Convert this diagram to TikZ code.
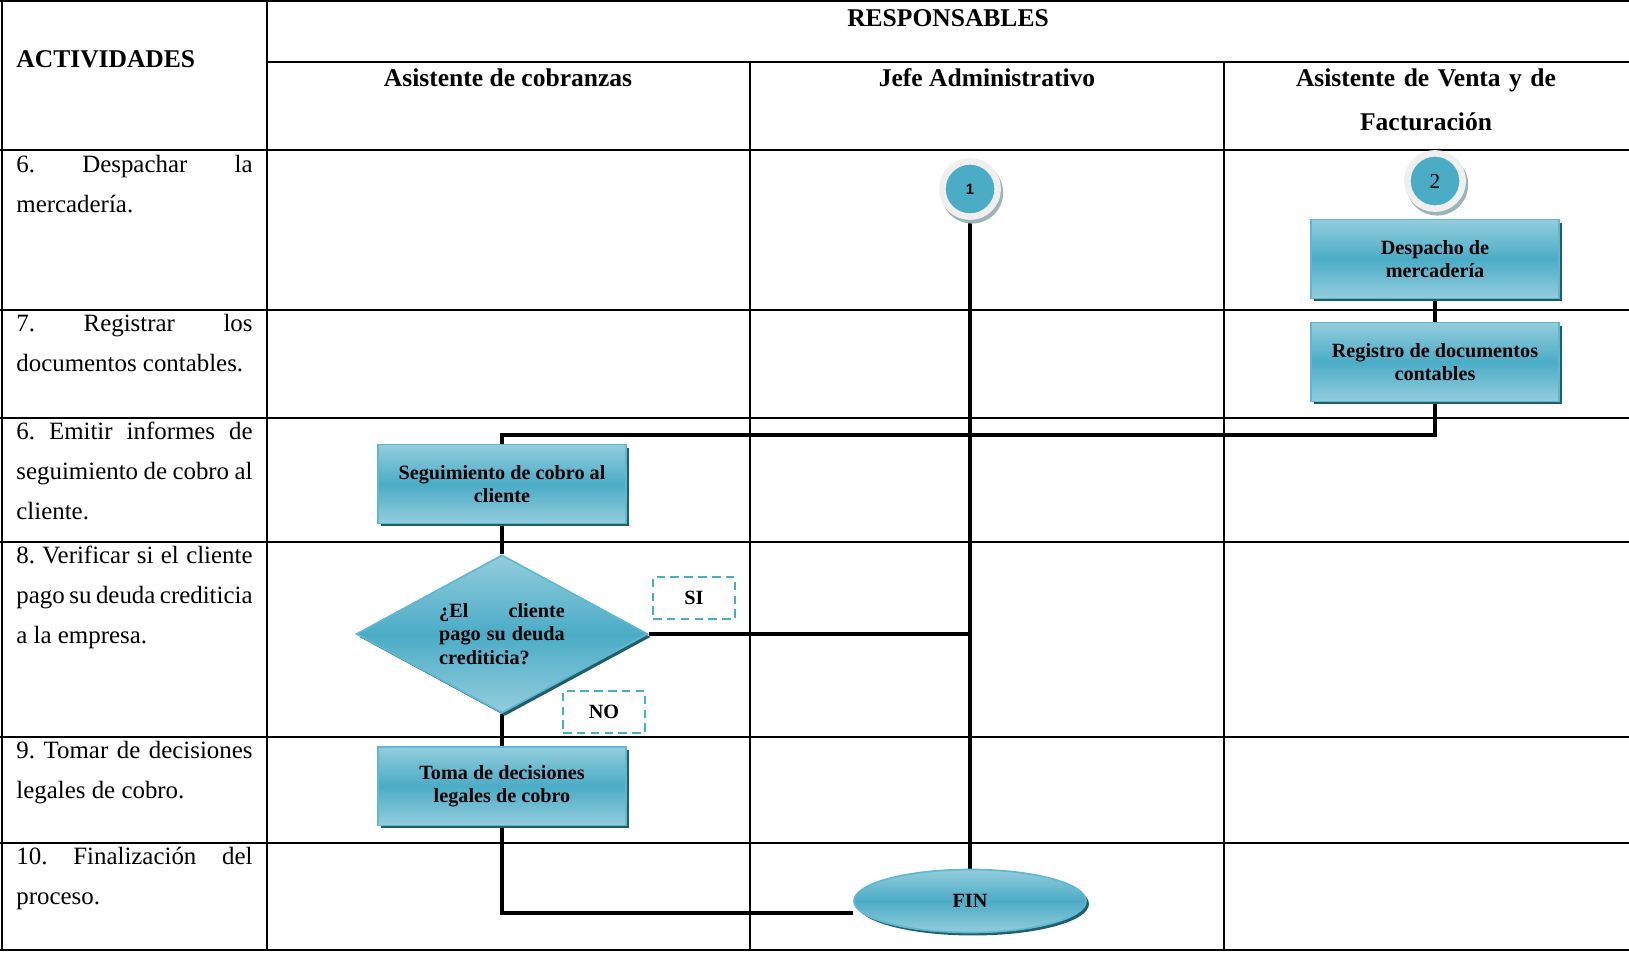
\documentclass[tikz,border=0pt]{standalone}
\usepackage{fontspec}
\setmainfont{Liberation Serif}
\setsansfont{Liberation Sans}
\usetikzlibrary{shapes.geometric,shadows,calc}

\definecolor{tealmid}{HTML}{4BACC6}
\definecolor{teallight}{HTML}{93CDDD}
\definecolor{tealedge}{HTML}{5FB8CF}
\definecolor{tealshadow}{HTML}{215E6C}
\definecolor{ringgrey}{HTML}{EFEFEF}
\definecolor{ringshadow}{HTML}{9DB3BA}

\newcommand\actfont{\fontsize{11.7}{18.8}\selectfont\frenchspacing
  \tolerance=10000\relax\hyphenpenalty=10000\relax}

\pgfdeclarelayer{bg}
\pgfsetlayers{bg,main}

\tikzset{
  tabla/.style={line width=1pt},
  flujo/.style={line width=1.5pt},
  actividad/.style={anchor=base west, text width=111pt, align=justify, inner sep=0pt,
    font=\actfont},
  encabezado/.style={anchor=base, inner sep=0pt, font=\fontsize{12}{20.7}\selectfont\bfseries},
  sombra/.style={drop shadow={shadow xshift=1.4pt, shadow yshift=-1.4pt, fill=tealshadow, opacity=1}},
  relleno/.style={draw=tealedge, line width=0.8pt, top color=teallight, bottom color=teallight,
    middle color=tealmid, sombra, inner sep=0pt, font=\fontsize{9.5}{11}\selectfont\bfseries},
  proceso/.style={rectangle, relleno, minimum width=116.5pt, minimum height=37pt, align=center},
  decision/.style={diamond, aspect=1.85, relleno, minimum width=137pt, minimum height=74.3pt,
    text width=59pt, align=justify},
  terminal/.style={ellipse, relleno, minimum width=109pt, minimum height=29.6pt},
  conector/.style={circle, draw=ringgrey, line width=3.1pt, fill=tealmid, minimum size=26pt,
    inner sep=0pt, drop shadow={shadow xshift=0.9pt, shadow yshift=-1.5pt, shadow scale=1.12,
    fill=ringshadow, opacity=1}},
  etiqueta/.style={draw=tealmid, dash pattern=on 4pt off 2.5pt, line width=1.1pt,
    minimum width=38.5pt, minimum height=19.7pt, font=\fontsize{9.5}{11}\selectfont\bfseries}
}

\begin{document}
\begin{tikzpicture}[x=0.47pt,y=-0.47pt]
  \useasboundingbox (0,0) rectangle (1629,952);

  \node[encabezado, anchor=base west] (act) at (16,67) {ACTIVIDADES};
  \node[encabezado] (resp) at (948,26) {RESPONSABLES};
  \node[encabezado] (r1) at (508,86) {Asistente de cobranzas};
  \node[encabezado] (r2) at (987,86) {Jefe Administrativo};
  \node[encabezado, text width=180pt, align=center] (r3) at (1426,86) {Asistente de Venta y de\\Facturación};

  \node[actividad] (a1) at (16,172) {6. Despachar la\linebreak mercadería.};
  \node[actividad] (a2) at (16,331) {7. Registrar los\linebreak documentos contables.};
  \node[actividad] (a3) at (16,439) {6. Emitir informes de\linebreak seguimiento de cobro al\linebreak cliente.};
  \node[actividad] (a4) at (16,563) {8. Verificar si el cliente\linebreak pago su deuda crediticia\linebreak a la empresa.};
  \node[actividad] (a5) at (16,758) {9. Tomar de decisiones\linebreak legales de cobro.};
  \node[actividad] (a6) at (16,864) {10. Finalización del\linebreak proceso.};

  \node[conector] (c1) at (970,189) {\sffamily\bfseries\fontsize{7}{8}\selectfont 1};
  \node[conector] (c2) at (1435,181) {\fontsize{10}{12}\selectfont 2};
  \node[proceso] (desp) at (1435,259) {Despacho de\\mercadería};
  \node[proceso] (reg) at (1435,362) {Registro de documentos\\contables};
  \node[proceso] (seg) at (502,484) {Seguimiento de cobro al\\cliente};
  \node[decision] (dec) at (502,634) {¿El cliente\linebreak pago su deuda\linebreak crediticia?};
  \node[etiqueta] (si) at (694,598) {SI};
  \node[etiqueta] (no) at (604,712) {NO};
  \node[proceso] (toma) at (502,786) {Toma de decisiones\\legales de cobro};
  \node[terminal] (fin) at (970,901) {FIN};
  \coordinate (giro) at (1000,435);

  \begin{pgfonlayer}{bg}
    \draw[tabla] (0,1) -- (1629,1);
    \draw[tabla] (267,62) -- (1629,62);
    \foreach \y in {150,310,418,542,737,843,950}
      \draw[tabla] (0,\y) -- (1629,\y);
    \draw[tabla] (2,0) -- (2,951) (267,0) -- (267,951);
    \foreach \x in {750,1224}
      \draw[tabla] (\x,62) -- (\x,951);

    \draw[flujo] (c1.south) -- (fin.north);
    \draw[flujo] (desp.south) -- (reg.north);
    \draw[flujo] (reg.south) -- (reg.south |- giro) -| (seg.north);
    \draw[flujo] (seg.south) -- (dec.north);
    \draw[flujo] (dec.east) -- (dec.east -| c1.south);
    \draw[flujo] (dec.south) -- (toma.north);
    \draw[flujo] (toma.south) |- ($(fin.west)+(0,12)$);
  \end{pgfonlayer}
\end{tikzpicture}
\end{document}
